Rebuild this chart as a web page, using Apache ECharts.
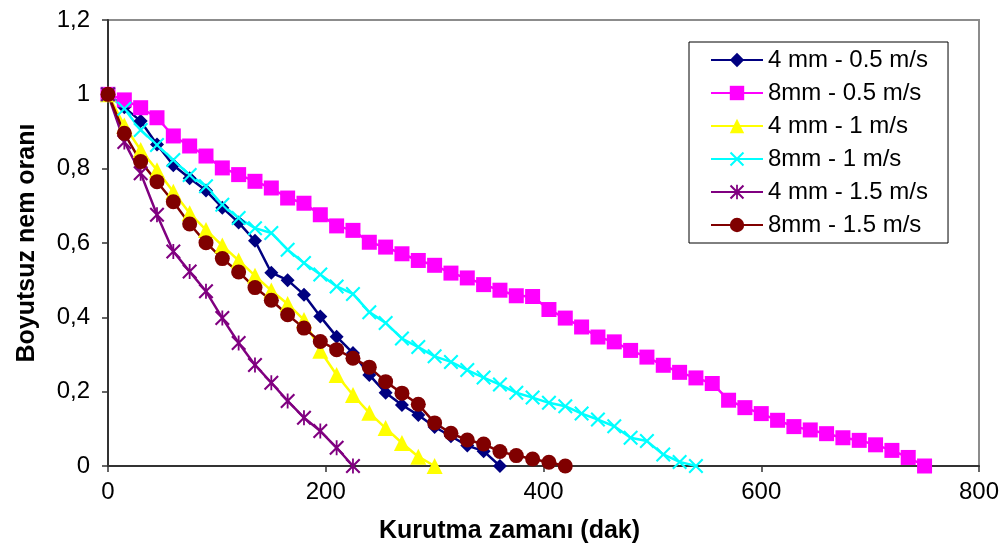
<!DOCTYPE html>
<html>
<head>
<meta charset="utf-8">
<script src="https://cdn.jsdelivr.net/npm/echarts@6/dist/echarts.min.js"></script>
<style>
  html, body { margin: 0; padding: 0; background: #fff; }
  #chart { width: 1005px; height: 549px; }
</style>
</head>
<body>
<div id="chart"></div>
<script>
  // drying time (dak), 15 min steps
  const times = [0, 15, 30, 45, 60, 75, 90, 105, 120, 135, 150, 165, 180, 195, 210, 225, 240, 255, 270, 285,
    300, 315, 330, 345, 360, 375, 390, 405, 420, 435, 450, 465, 480, 495, 510, 525, 540, 555, 570, 585,
    600, 615, 630, 645, 660, 675, 690, 705, 720, 735, 750]

  const names = ['4 mm - 0.5 m/s', '8mm - 0.5 m/s', '4 mm - 1 m/s', '8mm - 1 m/s', '4 mm - 1.5 m/s', '8mm - 1.5 m/s']

  const mm4_05 = [1, 0.965, 0.928, 0.865, 0.809, 0.774, 0.741, 0.695, 0.655, 0.606, 0.52, 0.5, 0.461, 0.402,
    0.348, 0.304, 0.245, 0.197, 0.164, 0.137, 0.105, 0.08, 0.055, 0.04, 0]
  const mm8_05 = [1, 0.985, 0.964, 0.937, 0.888, 0.861, 0.834, 0.802, 0.784, 0.766, 0.748, 0.721, 0.707, 0.676,
    0.646, 0.634, 0.602, 0.589, 0.571, 0.553, 0.54, 0.519, 0.506, 0.488, 0.473, 0.458, 0.456, 0.421, 0.398,
    0.374, 0.347, 0.334, 0.311, 0.293, 0.271, 0.252, 0.237, 0.222, 0.177, 0.157, 0.141, 0.123, 0.106, 0.097,
    0.087, 0.076, 0.069, 0.057, 0.042, 0.023, 0]
  const mm4_1 = [1, 0.916, 0.85, 0.796, 0.738, 0.68, 0.635, 0.593, 0.553, 0.512, 0.472, 0.436, 0.393, 0.31,
    0.245, 0.191, 0.143, 0.102, 0.062, 0.025, 0]
  const mm8_1 = [1, 0.961, 0.904, 0.864, 0.823, 0.783, 0.753, 0.703, 0.667, 0.64, 0.627, 0.582, 0.546, 0.515,
    0.483, 0.463, 0.414, 0.385, 0.343, 0.32, 0.295, 0.28, 0.258, 0.238, 0.219, 0.197, 0.184, 0.17, 0.161,
    0.141, 0.125, 0.107, 0.076, 0.067, 0.031, 0.011, 0]
  const mm4_15 = [1, 0.872, 0.788, 0.676, 0.577, 0.523, 0.47, 0.398, 0.331, 0.272, 0.224, 0.175, 0.13, 0.094,
    0.049, 0]
  const mm8_15 = [1, 0.895, 0.819, 0.765, 0.711, 0.651, 0.601, 0.558, 0.522, 0.48, 0.446, 0.407, 0.371, 0.335,
    0.313, 0.29, 0.266, 0.227, 0.196, 0.166, 0.116, 0.088, 0.07, 0.059, 0.039, 0.028, 0.019, 0.01, 0]

  const font = "'Liberation Sans', Arial, sans-serif"

  // excel-like x and asterisk markers
  const crossPath = 'path://M0,1 L1,0 L5,4 L9,0 L10,1 L6,5 L10,9 L9,10 L5,6 L1,10 L0,9 L4,5 Z'
  const starPath = 'path://M0,1 L1,0 L5,4 L9,0 L10,1 L6,5 L10,9 L9,10 L5,6 L1,10 L0,9 L4,5 Z M4.4,0 L5.6,0 L5.6,10 L4.4,10 Z'

  function pairs(vals) {
    return vals.map((v, i) => [times[i], v])
  }

  function makeSeries(name, vals, color, symbol, size) {
    return {
      name: name,
      type: 'line',
      data: pairs(vals),
      symbol: symbol,
      symbolSize: size,
      showAllSymbol: true,
      lineStyle: { color: color, width: 2.5 },
      itemStyle: { color: color },
      emphasis: { disabled: true }
    }
  }

  const chart = echarts.init(document.getElementById('chart'))
  chart.setOption({
    animation: false,
    textStyle: { fontFamily: font },
    grid: {
      left: 108,
      right: 26,
      top: 20,
      bottom: 82,
      show: true,
      borderColor: '#8c8c8c',
      borderWidth: 2
    },
    legend: {
      orient: 'vertical',
      left: 689,
      top: 42,
      padding: [6, 20, 6, 21],
      borderColor: '#000',
      borderWidth: 1,
      backgroundColor: '#fff',
      itemWidth: 52,
      itemHeight: 18,
      itemGap: 9,
      textStyle: { fontSize: 24, color: '#000', fontFamily: font },
      data: names
    },
    xAxis: {
      type: 'value',
      min: 0,
      max: 800,
      interval: 200,
      name: 'Kurutma zamanı (dak)',
      nameLocation: 'middle',
      nameGap: 53,
      nameTextStyle: { fontSize: 25, fontWeight: 'bold', color: '#000', fontFamily: font, padding: [0, 68, 0, 0] },
      axisLine: { lineStyle: { color: '#333', width: 2 } },
      axisTick: { length: 6, lineStyle: { color: '#333', width: 1.5 } },
      axisLabel: { fontSize: 24, color: '#000', margin: 14 },
      splitLine: { show: false }
    },
    yAxis: {
      type: 'value',
      min: 0,
      max: 1.2,
      interval: 0.2,
      name: 'Boyutsuz nem oranı',
      nameLocation: 'middle',
      nameGap: 68,
      nameTextStyle: { fontSize: 25, fontWeight: 'bold', color: '#000', fontFamily: font },
      axisLine: { show: true, lineStyle: { color: '#333', width: 2 } },
      axisTick: { show: true, length: 6, lineStyle: { color: '#333', width: 1.5 } },
      axisLabel: {
        fontSize: 24,
        color: '#000',
        margin: 18,
        formatter: v => String(+v.toFixed(1)).replace('.', ',')
      },
      splitLine: { show: false }
    },
    series: [
      makeSeries(names[0], mm4_05, '#000080', 'diamond', 14),
      makeSeries(names[1], mm8_05, '#ff00ff', 'rect', 15),
      makeSeries(names[2], mm4_1, '#ffff00', 'triangle', 16),
      makeSeries(names[3], mm8_1, '#00ffff', crossPath, 15),
      makeSeries(names[4], mm4_15, '#800080', starPath, 15),
      makeSeries(names[5], mm8_15, '#800000', 'circle', 15)
    ]
  })
</script>
</body>
</html>
